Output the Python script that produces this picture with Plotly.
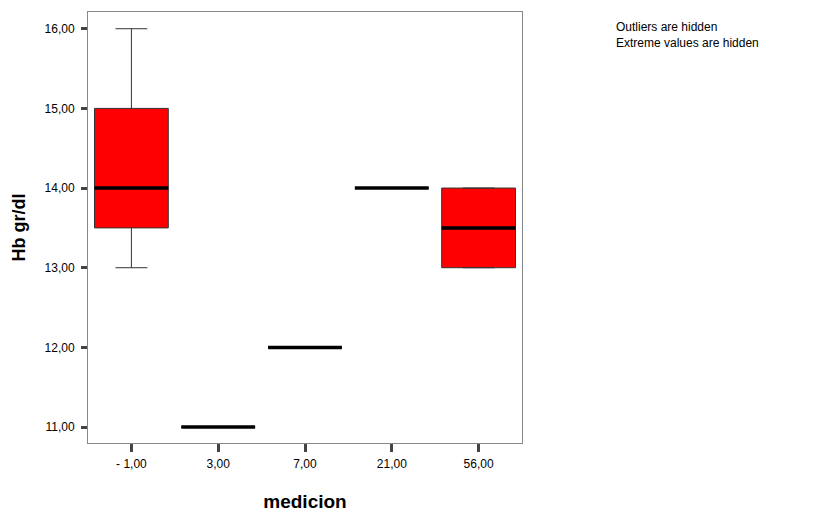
import plotly.graph_objects as go

categories = ["- 1,00", "3,00", "7,00", "21,00", "56,00"]
lower_fence = [13.0, 11.0, 12.0, 14.0, 13.0]
q1 = [13.5, 11.0, 12.0, 14.0, 13.0]
median = [14.0, 11.0, 12.0, 14.0, 13.5]
q3 = [15.0, 11.0, 12.0, 14.0, 14.0]
upper_fence = [16.0, 11.0, 12.0, 14.0, 14.0]
y_ticks = [11, 12, 13, 14, 15, 16]
y_tick_labels = ["11,00", "12,00", "13,00", "14,00", "15,00", "16,00"]

BOX_W = 0.85
fig = go.Figure()
xs = list(range(len(categories)))
fig.add_trace(go.Box(
    x=xs, q1=q1, median=median, q3=q3,
    lowerfence=lower_fence, upperfence=upper_fence,
    width=BOX_W, whiskerwidth=0.43,
    fillcolor="#FF0000", line=dict(color="#333333", width=1),
    boxpoints=False, hoverinfo="skip", showlegend=False,
))
for i, m in enumerate(median):
    fig.add_shape(type="line", xref="x", yref="y",
                  x0=i - BOX_W / 2, x1=i + BOX_W / 2, y0=m, y1=m,
                  line=dict(color="black", width=3.5))

# page body has an 8px default margin; compensate in figure size/margins
fig.update_layout(
    width=808, height=504,
    margin=dict(l=80, r=294, t=4, b=69, autoexpand=False),
    plot_bgcolor="white", paper_bgcolor="white",
    font=dict(family="Liberation Sans, Arial, sans-serif", size=12, color="black"),
    showlegend=False,
)
fig.update_xaxes(
    range=[-0.5, len(categories) - 0.5], tickvals=xs, ticktext=categories,
    showgrid=False, zeroline=False,
    showline=True, linecolor="#888888", linewidth=1, mirror=True,
    ticks="outside", ticklen=8, tickwidth=3, tickcolor="#444444",
    ticklabelstandoff=2,
    title=dict(text="<b>medicion</b>", font=dict(size=19), standoff=26),
)
fig.update_yaxes(
    range=[10.8, 16.21], tickvals=y_ticks, ticktext=y_tick_labels,
    showgrid=False, zeroline=False,
    showline=True, linecolor="#888888", linewidth=1, mirror=True,
    ticks="outside", ticklen=6, tickwidth=3, tickcolor="#444444",
    ticklabelstandoff=4,
    title=dict(text="<b>Hb gr/dl</b>", font=dict(size=18), standoff=14),
)
fig.add_annotation(xref="paper", yref="paper", x=1.213, y=1.0, xanchor="left", yanchor="top",
                   yshift=-6,
                   text="Outliers are hidden<br>Extreme values are hidden",
                   showarrow=False, align="left", font=dict(size=12))

fig.write_html("out.html")
